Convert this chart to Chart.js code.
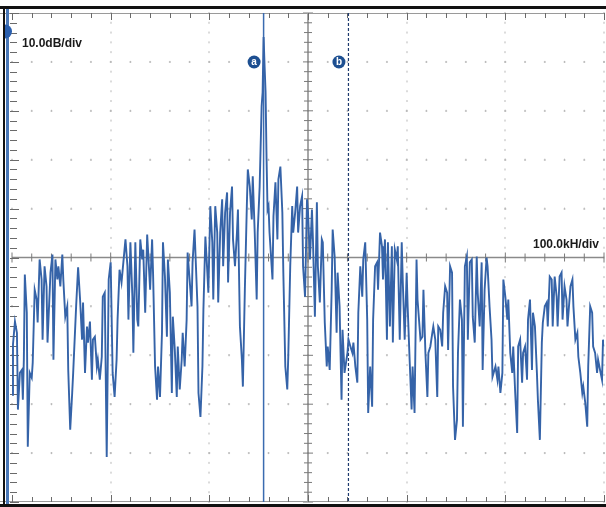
<!DOCTYPE html>
<html><head><meta charset="utf-8">
<script src="https://cdn.jsdelivr.net/npm/chart.js@4.4.1/dist/chart.umd.min.js"></script>
<style>html,body{margin:0;padding:0;background:#fff;overflow:hidden}canvas{display:block}</style>
</head><body>
<canvas id="c" width="606" height="507"></canvas>
<script>
// Frequency offset from centre (kHz) and level (dB)
const freqKHz = [
-300,-299,-297,-295,-294,-292,-290,-289,-288,-287,-285,-284,-282,-280,-279,-277,-275,-274,-272,-270,
-269,-267,-265,-264,-261,-259,-258,-256,-254,-253,-251,-249,-248,-246,-244,-243,-241,-239,-238,-235,
-233,-231,-229,-228,-226,-224,-223,-221,-219,-218,-216,-214,-213,-211,-209,-208,-206,-204,-202,-200,
-198,-196,-194,-193,-191,-189,-185,-183,-182,-180,-178,-177,-175,-173,-172,-170,-168,-167,-165,-163,
-162,-160,-158,-157,-155,-153,-152,-150,-148,-147,-145,-143,-142,-140,-138,-137,-135,-133,-132,-130,
-128,-127,-125,-123,-122,-120,-118,-117,-115,-112,-111,-109,-107,-106,-104,-102,-101,-99,-97,-96,
-94,-92,-91,-89,-87,-86,-84,-82,-81,-79,-77,-76,-74,-72,-71,-69,-67,-66,-64,-62,
-61,-59,-57,-56,-54,-52,-51,-49,-47,-46,-45,-44,-43,-42,-41,-40,-39,-36,-35,-33,
-31,-30,-28,-26,-25,-23,-21,-20,-18,-16,-15,-13,-11,-10,-8,-6,-5,-3,-1,0,
2,4,5,7,9,10,12,14,15,17,19,20,22,24,25,27,29,30,32,34,
35,37,40,41,43,45,46,48,50,51,53,55,56,58,60,61,63,65,66,68,
70,71,73,75,76,78,80,81,83,85,86,88,90,91,93,95,96,98,100,101,
103,105,106,108,110,111,114,116,117,119,121,122,124,126,127,129,131,132,134,136,
137,139,141,142,144,146,147,149,151,152,154,156,157,159,161,162,164,166,167,169,
171,172,174,176,177,179,181,182,184,186,187,190,192,193,195,197,198,200,202,203,
205,207,208,210,212,213,215,217,218,220,222,223,225,227,228,230,232,233,235,237,
238,240,242,243,245,247,248,250,252,253,255,257,258,260,262,263,266,268,269,271,
273,274,276,278,279,281,283,284,286,288,289,291,293,294,296,298,299,300
];
const levelDB = [
-78.1,-67.8,-63.1,-65.4,-81.1,-73.6,-73.0,-79.1,-70.9,-53.5,-61.3,-88.7,-73.6,-74.6,-71.5,-56.6,-58.6,-63.3,-50.4,-54.5,
-66.8,-51.8,-55.9,-67.4,-53.1,-49.4,-70.9,-50.4,-54.5,-51.8,-55.9,-49.4,-54.5,-62.1,-60.0,-73.0,-85.2,-77.7,-73.6,-60.0,
-52.0,-58.6,-66.8,-59.2,-73.6,-64.1,-67.4,-63.1,-75.0,-66.8,-66.2,-72.3,-70.9,-75.0,-70.3,-58.0,-57.2,-90.8,-54.5,-51.0,
-73.6,-78.5,-70.9,-62.7,-52.5,-55.1,-46.3,-51.8,-62.7,-46.9,-58.0,-69.5,-46.9,-62.7,-64.1,-46.3,-50.4,-48.4,-61.3,-45.3,
-49.0,-56.6,-46.3,-53.5,-72.3,-79.1,-72.3,-78.5,-65.4,-46.9,-53.9,-66.2,-50.4,-57.2,-77.7,-62.1,-68.9,-78.5,-68.2,-77.0,
-70.9,-65.4,-72.3,-62.7,-49.0,-54.5,-60.0,-51.0,-44.3,-60.0,-77.7,-82.6,-72.3,-60.7,-45.7,-53.1,-57.2,-39.5,-46.9,-58.6,
-39.5,-44.9,-59.2,-44.9,-38.1,-51.8,-40.8,-36.7,-55.1,-40.8,-35.5,-46.3,-51.8,-44.9,-40.2,-64.1,-70.9,-76.4,-56.6,-39.5,
-32.0,-35.5,-42.2,-33.4,-44.9,-58.6,-44.9,-35.5,-19.1,-16.2,-4.9,-10.9,-16.2,-29.9,-40.2,-39.5,-44.9,-54.5,-41.6,-34.6,
-46.3,-34.0,-31.4,-40.8,-53.1,-72.3,-77.0,-70.3,-51.8,-39.5,-44.9,-40.8,-35.5,-44.9,-39.5,-37.5,-51.8,-58.0,-38.1,-40.8,
-50.4,-40.2,-46.3,-62.1,-38.7,-51.8,-59.2,-46.3,-46.9,-63.3,-72.3,-68.2,-73.0,-56.6,-44.3,-49.8,-65.4,-53.1,-60.0,-79.1,
-64.8,-73.6,-69.5,-66.8,-68.2,-69.5,-67.4,-72.3,-75.6,-61.3,-51.8,-58.0,-50.4,-46.9,-62.7,-81.8,-72.3,-80.5,-62.7,-51.8,
-51.0,-56.6,-44.9,-47.7,-54.5,-46.3,-66.8,-46.9,-64.1,-47.7,-67.4,-48.4,-50.4,-47.7,-66.8,-46.9,-54.5,-66.8,-53.1,-60.0,
-70.9,-81.1,-72.3,-81.8,-50.4,-58.6,-66.8,-66.2,-56.6,-69.5,-78.5,-69.5,-68.2,-65.4,-64.1,-66.8,-78.5,-64.1,-64.8,-68.2,
-61.3,-55.9,-57.2,-68.9,-51.8,-53.1,-76.4,-87.3,-83.2,-69.5,-58.6,-62.7,-84.6,-51.8,-49.8,-66.8,-51.0,-50.4,-62.1,-67.4,
-49.8,-57.2,-64.1,-51.0,-73.0,-56.6,-50.0,-51.8,-60.0,-66.8,-74.4,-72.3,-75.0,-72.3,-77.7,-73.6,-54.5,-58.0,-62.7,-58.6,
-69.5,-73.6,-68.2,-77.7,-85.9,-68.2,-66.8,-75.6,-69.5,-68.2,-75.0,-62.7,-58.6,-73.0,-61.3,-64.1,-73.6,-79.1,-87.3,-67.4,
-63.3,-60.0,-59.2,-64.1,-53.9,-54.5,-64.1,-53.9,-58.0,-64.1,-53.9,-53.1,-62.7,-55.9,-58.6,-64.1,-55.9,-54.5,-60.0,-66.8,
-65.4,-70.3,-73.6,-77.7,-76.4,-79.7,-84.6,-72.3,-60.0,-61.3,-68.2,-69.5,-73.6,-70.9,-73.0,-75.0,-66.8,-68.2
];
const xTicks = [-300,-200,-100,0,100,200,300];
const yTicks = [0,-10,-20,-30,-40,-50,-60,-70,-80,-90,-100];
const markerA = -45;   // kHz, solid cursor
const markerB = 41;    // kHz, dashed cursor
const markerNames = ['a','b'];
const yScaleLabel = '10.0dB/div';
const xScaleLabel = '100.0kH/div';

const gridPlugin = {
  id: 'scopeGrid',
  beforeDatasetsDraw(chart) {
    const {ctx, chartArea: a, scales: {x, y}} = chart;
    ctx.save();
    const xc = x.getPixelForValue(0), yc = y.getPixelForValue(-50);
    const xMinor = [], yMinor = [];
    for (let v = -300; v <= 300; v += 20) xMinor.push([x.getPixelForValue(v), v % 100 === 0]);
    for (let v = 0; v >= -100; v -= 2) yMinor.push([y.getPixelForValue(v), v % 10 === 0]);
    ctx.fillStyle = '#b8b8b8';
    xTicks.forEach(t => {
      if (t === 0 || t === -300) return;
      const px = x.getPixelForValue(t);
      yMinor.forEach(([py]) => ctx.fillRect(Math.round(px) - 0.5, py - 1, 1, 2));
    });
    yTicks.forEach(t => {
      if (t === -50 || t === 0 || t === -100) return;
      const py = y.getPixelForValue(t);
      xMinor.forEach(([px]) => { ctx.fillRect(px - 1, Math.round(py) - 0.5, 2, 1); ctx.fillRect(px - 0.5, py - 1, 1, 2); });
    });
    ctx.strokeStyle = '#8a8a8a';
    ctx.lineWidth = 1.5;
    ctx.beginPath();
    ctx.moveTo(xc, a.top); ctx.lineTo(xc, a.bottom);
    ctx.moveTo(a.left, yc); ctx.lineTo(a.right, yc);
    ctx.stroke();
    ctx.lineWidth = 1;
    ctx.strokeStyle = '#7a7a7a';
    ctx.beginPath();
    yMinor.forEach(([py, maj]) => { const w = maj ? 5 : 4; ctx.moveTo(xc - w, py); ctx.lineTo(xc + w, py); });
    xMinor.forEach(([px, maj]) => { const h = maj ? 5 : 4; ctx.moveTo(px, yc - h); ctx.lineTo(px, yc + h); });
    ctx.stroke();
    ctx.strokeStyle = '#9a9a9a';
    ctx.lineWidth = 1;
    ctx.beginPath();
    ctx.moveTo(0, a.top + 0.5); ctx.lineTo(a.right, a.top + 0.5);
    ctx.moveTo(0, a.bottom - 0.5); ctx.lineTo(a.right, a.bottom - 0.5);
    ctx.stroke();
    ctx.strokeStyle = '#6a6a6a';
    ctx.beginPath();
    xMinor.forEach(([px, maj]) => {
      const h = maj ? 7 : 5;
      ctx.moveTo(Math.round(px) + 0.5, a.top); ctx.lineTo(Math.round(px) + 0.5, a.top + h);
      ctx.moveTo(Math.round(px) + 0.5, a.bottom); ctx.lineTo(Math.round(px) + 0.5, a.bottom - h);
    });
    yMinor.forEach(([py, maj]) => {
      const w = maj ? 9 : 7;
      ctx.moveTo(a.left - 2, Math.round(py) + 0.5); ctx.lineTo(a.left - 2 + w, Math.round(py) + 0.5);
    });
    ctx.stroke();
    ctx.restore();
  },
  afterDatasetsDraw(chart) {
    const {ctx, scales: {x}} = chart;
    ctx.save();
    ctx.fillStyle = '#111';
    ctx.fillRect(0, 6, 606, 3);
    ctx.fillRect(0, 504, 606, 3);
    ctx.fillRect(3, 6, 2, 501);
    ctx.fillStyle = '#4a78b8';
    ctx.fillRect(6, 9, 3, 495);
    ctx.fillStyle = '#2a5fae';
    ctx.beginPath();
    ctx.arc(5, 31.5, 7, -Math.PI / 2, Math.PI / 2);
    ctx.closePath();
    ctx.fill();
    [markerA, markerB].forEach((m, i) => {
      const cx = x.getPixelForValue(m) - 9.5, cy = 62;
      ctx.fillStyle = '#1d4f91';
      ctx.beginPath(); ctx.arc(cx, cy, 6.5, 0, Math.PI * 2); ctx.fill();
      ctx.fillStyle = '#fff';
      ctx.font = 'bold 10px "Liberation Sans", Arial, sans-serif';
      ctx.textAlign = 'center'; ctx.textBaseline = 'middle';
      ctx.fillText(markerNames[i], cx, cy + 0.5);
    });
    ctx.fillStyle = '#1a1a1a';
    ctx.font = 'bold 12px "Liberation Sans", Arial, sans-serif';
    ctx.textBaseline = 'alphabetic';
    ctx.textAlign = 'left';
    ctx.fillText(yScaleLabel, 22, 46.5);
    ctx.textAlign = 'right';
    ctx.fillText(xScaleLabel, 599, 248);
    ctx.restore();
  }
};

const trace = freqKHz.map((f, i) => ({x: f, y: levelDB[i]}));

new Chart(document.getElementById('c'), {
  type: 'scatter',
  data: {
    datasets: [
      {data: trace, showLine: true, borderColor: '#3563a8', borderWidth: 1.9, pointRadius: 0, tension: 0, order: 0},
      {data: [{x: markerA, y: 0}, {x: markerA, y: -100}], showLine: true, borderColor: '#3a6bb0', borderWidth: 1.5, pointRadius: 0, order: 1},
      {data: [{x: markerB, y: 0}, {x: markerB, y: -100}], showLine: true, borderColor: '#1e3a6e', borderWidth: 1.2, borderDash: [3, 2], pointRadius: 0, order: 2}
    ]
  },
  options: {
    responsive: false,
    animation: false,
    layout: {padding: {left: 12, right: 2, top: 13, bottom: 5}},
    plugins: {legend: {display: false}, tooltip: {enabled: false}},
    scales: {
      x: {type: 'linear', min: -300, max: 300, display: false},
      y: {type: 'linear', min: -100, max: 0, display: false}
    }
  },
  plugins: [gridPlugin]
});
</script>
</body></html>
